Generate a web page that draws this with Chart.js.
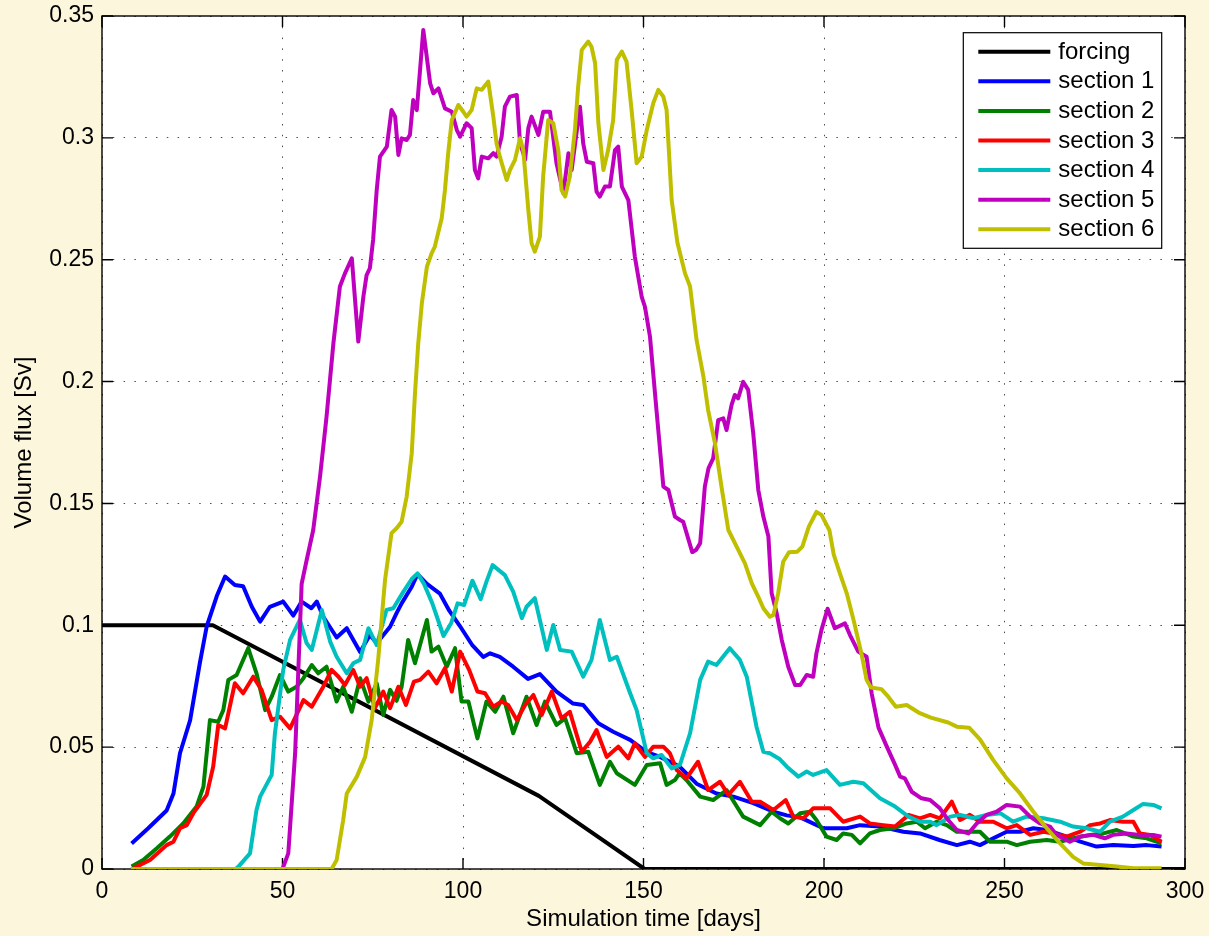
<!DOCTYPE html>
<html>
<head>
<meta charset="utf-8">
<title>Volume flux through sections</title>
<script src="https://cdn.jsdelivr.net/npm/chart.js@4.4.1/dist/chart.umd.min.js"></script>
<style>
  html, body { margin: 0; padding: 0; background: #fcf6dc; }
  #wrap { width: 1209px; height: 936px; position: relative; }
  canvas { display: block; }
</style>
</head>
<body>
<div id="wrap"><canvas id="flux" width="1209" height="936"></canvas></div>
<script>
// ---- axis ticks ----
const xTicks = [0, 50, 100, 150, 200, 250, 300];
const yTicks = [0, 0.05, 0.1, 0.15, 0.2, 0.25, 0.3, 0.35];

// ---- series: [simulation day, volume flux in Sv] ----
const forcing = [[0, 0.1], [30.7, 0.1], [121, 0.03], [150.3, 0], [300, 0]];

const section1 = [
  [8.2, 0.0105], [12.8, 0.0167], [17.9, 0.024], [19.8, 0.031], [21.6, 0.0475], [24.4, 0.061], [27.1, 0.0845], [29.0, 0.0995],
  [31.8, 0.112], [34.1, 0.12], [36.8, 0.1165], [39.1, 0.116], [41.5, 0.1076], [43.8, 0.1015], [46.5, 0.1076], [50.2, 0.1097],
  [53.0, 0.104], [55.3, 0.1097], [58.0, 0.107], [59.5, 0.1097], [61.3, 0.1035], [65.0, 0.095], [67.8, 0.0988], [71.5, 0.089],
  [74.2, 0.096], [76.1, 0.0926], [79.8, 0.0994], [81.6, 0.105], [83.0, 0.109], [85.8, 0.1158], [87.4, 0.121], [90.0, 0.117],
  [93.6, 0.113], [96.2, 0.106], [99.0, 0.1], [102.5, 0.092], [105.6, 0.087], [107.5, 0.0885], [110.2, 0.087], [113.9, 0.083],
  [118.0, 0.078], [121.3, 0.08], [125.9, 0.0728], [130.5, 0.0679], [133.3, 0.0673], [137.5, 0.0598], [141.6, 0.0563], [146.3, 0.053],
  [150.9, 0.048], [154.6, 0.046], [160.0, 0.042], [164.7, 0.035], [170.2, 0.031], [174.9, 0.0297], [180.4, 0.027], [186.0, 0.0235],
  [189.7, 0.022], [193.4, 0.0212], [199.8, 0.0167], [206.3, 0.0167], [210.0, 0.018], [215.5, 0.0174], [222.0, 0.0153], [226.6, 0.0146],
  [232.0, 0.0119], [236.8, 0.0098], [240.4, 0.0112], [243.2, 0.0098], [246.9, 0.0126], [250.6, 0.0153], [254.3, 0.0153], [258.0, 0.0167],
  [261.7, 0.016], [267.2, 0.0133], [271.0, 0.0112], [275.5, 0.0092], [280.1, 0.0098], [285.7, 0.0094], [289.4, 0.0098], [293.5, 0.0092]
];

const section2 = [
  [8.2, 0.001], [11.4, 0.0037], [15.2, 0.0085], [18.8, 0.0133], [22.5, 0.0187], [26.2, 0.0256], [28.1, 0.0338], [29.9, 0.0611],
  [32.2, 0.0604], [33.6, 0.0652], [35.0, 0.0776], [37.3, 0.0796], [40.5, 0.0906], [42.8, 0.0803], [45.2, 0.0652], [47.0, 0.0707],
  [49.3, 0.0796], [51.6, 0.0728], [53.9, 0.0748], [55.8, 0.0783], [58.1, 0.0837], [59.9, 0.0803], [62.2, 0.083], [65.0, 0.0687],
  [66.8, 0.0748], [69.2, 0.0645], [71.5, 0.0783], [73.8, 0.0687], [76.1, 0.0762], [77.9, 0.0632], [79.8, 0.0735], [81.6, 0.069],
  [83.0, 0.0748], [84.8, 0.094], [86.7, 0.0844], [90.0, 0.1022], [91.3, 0.0892], [93.2, 0.0912], [95.5, 0.083], [97.8, 0.0906],
  [99.6, 0.0687], [101.5, 0.0687], [104.0, 0.0536], [106.5, 0.0687], [108.9, 0.0645], [111.2, 0.0707], [113.9, 0.0557], [117.6, 0.0707],
  [120.4, 0.0591], [122.7, 0.0687], [125.9, 0.0591], [128.3, 0.0618], [131.5, 0.0475], [134.7, 0.0481], [137.9, 0.0345], [140.7, 0.044],
  [142.6, 0.0393], [147.6, 0.0345], [150.9, 0.0427], [154.6, 0.0434], [156.4, 0.0345], [158.7, 0.0365], [160.0, 0.0393], [161.9, 0.0365],
  [165.7, 0.0297], [169.3, 0.0283], [173.0, 0.0324], [177.6, 0.0215], [182.3, 0.018], [185.5, 0.0235], [187.8, 0.0208], [190.1, 0.0187],
  [193.4, 0.0229], [196.1, 0.0235], [197.9, 0.0201], [200.7, 0.0133], [203.5, 0.0119], [205.3, 0.0146], [207.7, 0.014], [210.0, 0.0105],
  [212.7, 0.0146], [215.5, 0.016], [219.2, 0.0167], [222.9, 0.0187], [225.7, 0.0194], [228.0, 0.0167], [231.2, 0.0194], [234.0, 0.018],
  [236.8, 0.0153], [240.4, 0.0153], [243.2, 0.0153], [246.0, 0.0112], [250.6, 0.0112], [253.4, 0.0098], [257.1, 0.0112], [261.7, 0.0119],
  [265.4, 0.0112], [269.0, 0.0126], [273.7, 0.014], [277.4, 0.0146], [281.1, 0.016], [285.7, 0.0133], [289.4, 0.0126], [293.5, 0.0105]
];

const section3 = [
  [8.7, 0.0003], [13.3, 0.0037], [17.9, 0.0098], [19.8, 0.0112], [21.6, 0.0167], [23.5, 0.018], [25.3, 0.0229], [29.0, 0.0304],
  [30.8, 0.042], [32.2, 0.0591], [34.1, 0.0577], [36.8, 0.0762], [39.1, 0.0721], [41.9, 0.0789], [44.2, 0.0735], [47.0, 0.0611],
  [49.3, 0.0625], [52.1, 0.0577], [55.8, 0.0693], [58.1, 0.0666], [61.3, 0.0748], [63.6, 0.0817], [65.5, 0.0789], [67.3, 0.0755],
  [69.6, 0.0817], [71.5, 0.0748], [73.3, 0.0783], [75.6, 0.066], [77.9, 0.0728], [79.8, 0.066], [82.1, 0.0748], [84.2, 0.0673],
  [86.4, 0.0769], [88.1, 0.0776], [90.4, 0.081], [92.7, 0.0762], [95.0, 0.0824], [96.9, 0.0728], [99.2, 0.0892], [101.7, 0.0817],
  [104.0, 0.0728], [106.1, 0.0721], [108.4, 0.0666], [110.7, 0.0687], [112.5, 0.0673], [114.9, 0.0611], [117.2, 0.0673], [119.5, 0.0714],
  [121.8, 0.0632], [124.6, 0.0728], [127.3, 0.0618], [129.6, 0.0645], [132.9, 0.0481], [135.2, 0.0522], [137.0, 0.057], [139.8, 0.046],
  [143.0, 0.0502], [145.8, 0.0454], [147.6, 0.0516], [150.4, 0.046], [152.7, 0.0502], [155.5, 0.0502], [157.3, 0.0475], [159.2, 0.0406],
  [161.9, 0.0372], [165.1, 0.044], [167.9, 0.0324], [171.2, 0.0358], [173.5, 0.0304], [176.7, 0.0358], [180.0, 0.0276], [182.3, 0.0276],
  [186.0, 0.0242], [189.4, 0.0283], [191.5, 0.0215], [194.3, 0.0208], [197.0, 0.0249], [201.7, 0.0249], [205.3, 0.0194], [210.0, 0.0215],
  [212.7, 0.0187], [216.4, 0.018], [219.7, 0.0174], [223.4, 0.0222], [226.6, 0.0208], [229.4, 0.0222], [232.1, 0.0208], [235.4, 0.0276],
  [237.7, 0.0201], [240.4, 0.0222], [243.2, 0.0194], [246.9, 0.0194], [250.6, 0.0167], [253.4, 0.018], [257.1, 0.014], [260.8, 0.0153],
  [263.6, 0.0146], [267.2, 0.0133], [271.0, 0.0153], [273.7, 0.018], [276.5, 0.0187], [279.2, 0.0201], [282.8, 0.0194], [285.7, 0.0194],
  [287.5, 0.0146], [290.3, 0.014], [293.5, 0.0112]
];

const section4 = [
  [8.0, 0], [37.0, 0], [37.8, 0.001], [41.0, 0.0064], [42.8, 0.0242], [43.8, 0.0297], [47.0, 0.0386], [47.9, 0.0557],
  [50.2, 0.0817], [52.1, 0.094], [54.8, 0.1022], [56.7, 0.0926], [58.1, 0.0899], [60.9, 0.1063], [63.2, 0.0933], [65.0, 0.0871],
  [67.8, 0.0803], [69.6, 0.0844], [71.5, 0.0858], [73.8, 0.0988], [76.1, 0.0919], [78.8, 0.1063], [80.7, 0.107], [83.5, 0.1138],
  [85.8, 0.119], [87.4, 0.1213], [89.2, 0.117], [91.5, 0.109], [94.6, 0.0956], [96.7, 0.1008], [98.5, 0.109], [100.3, 0.1083],
  [102.6, 0.1183], [104.9, 0.1107], [106.5, 0.1179], [108.2, 0.1247], [111.6, 0.1206], [113.9, 0.1138], [116.3, 0.1029], [117.6, 0.1076],
  [119.9, 0.1111], [121.3, 0.1022], [123.2, 0.0899], [125.0, 0.1001], [126.9, 0.0899], [130.1, 0.0892], [133.3, 0.0789], [135.6, 0.0858],
  [137.9, 0.1022], [140.7, 0.0858], [142.6, 0.0871], [146.3, 0.0721], [148.1, 0.0652], [150.9, 0.0475], [152.7, 0.0454], [155.0, 0.0468],
  [157.8, 0.0413], [160.1, 0.0427], [162.9, 0.0557], [165.7, 0.0776], [167.9, 0.0851], [170.2, 0.0837], [173.9, 0.0906], [176.7, 0.0858],
  [178.6, 0.0789], [181.3, 0.0584], [183.2, 0.0481], [185.0, 0.0475], [187.8, 0.045], [189.7, 0.042], [192.9, 0.0379], [195.2, 0.04],
  [197.0, 0.0386], [200.7, 0.0406], [204.4, 0.0345], [208.1, 0.0358], [210.9, 0.0352], [215.5, 0.029], [219.7, 0.0256], [223.4, 0.0215],
  [226.6, 0.0194], [229.4, 0.0194], [231.2, 0.018], [235.0, 0.0215], [237.7, 0.0222], [241.4, 0.0208], [245.0, 0.0222], [248.8, 0.0229],
  [252.4, 0.0194], [256.1, 0.0215], [260.8, 0.0208], [265.4, 0.0194], [269.0, 0.0174], [272.8, 0.0167], [276.5, 0.0153], [279.2, 0.0194],
  [282.8, 0.0215], [285.7, 0.0242], [288.4, 0.0267], [291.2, 0.0263], [293.5, 0.0249]
];

const section5 = [
  [8.0, 0], [50.0, 0], [51.6, 0.0064], [53.5, 0.0475], [55.3, 0.117], [56.7, 0.1268], [58.5, 0.139], [60.4, 0.161],
  [62.2, 0.1856], [64.1, 0.2157], [65.9, 0.239], [67.3, 0.2444], [69.2, 0.2506], [71.0, 0.2164], [72.4, 0.2348], [73.3, 0.2437],
  [74.2, 0.2465], [75.1, 0.2581], [76.1, 0.2786], [77.0, 0.2923], [78.9, 0.2964], [80.2, 0.3114], [81.2, 0.3087], [82.1, 0.293],
  [83.0, 0.2998], [84.4, 0.2991], [85.3, 0.3012], [86.2, 0.3155], [87.2, 0.3114], [89.0, 0.3443], [90.9, 0.3224], [91.8, 0.3183],
  [93.2, 0.3203], [95.0, 0.3121], [96.9, 0.3107], [98.3, 0.3032], [99.2, 0.3005], [101.0, 0.306], [102.4, 0.304], [103.3, 0.2868],
  [104.2, 0.2834], [105.2, 0.2923], [107.0, 0.2916], [108.4, 0.2937], [109.3, 0.2923], [110.7, 0.3005], [111.6, 0.3128], [113.0, 0.3169],
  [114.9, 0.3176], [115.8, 0.2977], [116.7, 0.2937], [117.2, 0.291], [118.1, 0.304], [119.0, 0.3087], [120.9, 0.3012], [122.2, 0.3107],
  [124.1, 0.3107], [125.9, 0.2896], [127.8, 0.2773], [129.2, 0.2937], [130.1, 0.2868], [132.4, 0.3128], [133.3, 0.2977], [134.3, 0.2902],
  [136.1, 0.2896], [137.0, 0.2779], [137.9, 0.2759], [139.3, 0.28], [140.7, 0.28], [142.1, 0.295], [143.0, 0.2964], [144.0, 0.28],
  [145.8, 0.2745], [147.6, 0.2513], [149.5, 0.2348], [150.4, 0.2307], [151.8, 0.2184], [153.6, 0.1883], [155.5, 0.1569], [156.9, 0.1555],
  [158.7, 0.1446], [160.1, 0.1432], [161.0, 0.1425], [163.5, 0.130], [164.6, 0.131], [165.7, 0.1337], [167.0, 0.157], [168.0, 0.1644],
  [169.3, 0.1685], [170.7, 0.1842], [172.1, 0.1849], [173.0, 0.1801], [174.4, 0.1904], [175.3, 0.1945], [176.2, 0.1931], [177.6, 0.1999],
  [179.0, 0.1966], [180.4, 0.1788], [181.8, 0.1555], [183.2, 0.1446], [184.6, 0.1364], [185.5, 0.1131], [186.9, 0.1049], [188.3, 0.094],
  [190.1, 0.083], [192.0, 0.0755], [193.4, 0.0755], [195.2, 0.0796], [197.0, 0.0789], [197.9, 0.0885], [199.3, 0.0981], [201.0, 0.1068],
  [203.0, 0.0988], [205.8, 0.1008], [207.2, 0.096], [209.5, 0.0892], [211.8, 0.0871], [213.2, 0.0721], [215.1, 0.058], [217.4, 0.0502],
  [219.7, 0.0427], [221.1, 0.0379], [222.4, 0.0372], [224.3, 0.0317], [227.0, 0.029], [229.4, 0.0283], [232.1, 0.0249], [234.4, 0.0201],
  [236.8, 0.016], [240.0, 0.0146], [242.3, 0.0187], [245.0, 0.0222], [247.8, 0.0235], [250.6, 0.0263], [254.3, 0.0256], [257.1, 0.0215],
  [259.8, 0.0187], [262.6, 0.0174], [264.4, 0.014], [268.1, 0.0112], [271.0, 0.0133], [274.6, 0.014], [277.8, 0.0126], [280.1, 0.014],
  [283.8, 0.0146], [287.5, 0.014], [291.2, 0.014], [293.5, 0.0133]
];

const section6 = [
  [8.0, 0], [63.6, 0], [65.0, 0.0037], [66.8, 0.02], [67.8, 0.031], [70.6, 0.0379], [72.9, 0.046], [74.7, 0.0611],
  [76.5, 0.0858], [78.4, 0.1186], [80.2, 0.1378], [81.6, 0.1398], [83.0, 0.1425], [84.4, 0.1528], [85.8, 0.1706], [86.7, 0.1952],
  [87.6, 0.2157], [88.6, 0.2321], [90.0, 0.2471], [91.3, 0.2526], [92.2, 0.2554], [94.1, 0.267], [95.0, 0.2786], [95.9, 0.2937],
  [96.9, 0.3073], [98.7, 0.3135], [100.1, 0.3107], [101.0, 0.3087], [102.4, 0.3114], [103.8, 0.3203], [105.2, 0.3197], [107.0, 0.3231],
  [108.4, 0.3087], [109.3, 0.2977], [110.2, 0.2923], [112.1, 0.2827], [113.0, 0.2868], [114.4, 0.291], [115.8, 0.2998], [116.7, 0.295],
  [118.1, 0.2704], [119.0, 0.2567], [119.9, 0.2533], [121.3, 0.2595], [122.2, 0.2841], [123.6, 0.3073], [125.0, 0.306], [126.4, 0.295],
  [127.3, 0.2786], [128.3, 0.2759], [129.6, 0.2841], [131.0, 0.3032], [131.9, 0.321], [132.9, 0.3361], [134.7, 0.3395], [135.6, 0.3374],
  [136.6, 0.3306], [137.5, 0.306], [138.9, 0.2868], [140.2, 0.295], [141.6, 0.3073], [142.6, 0.332], [144.0, 0.3354], [145.3, 0.3313],
  [146.7, 0.3114], [148.1, 0.2896], [149.5, 0.2923], [150.9, 0.3032], [152.7, 0.3142], [154.1, 0.3197], [155.5, 0.3169], [156.4, 0.3114],
  [157.8, 0.2745], [159.4, 0.257], [161.5, 0.2444], [162.9, 0.239], [164.7, 0.2171], [166.6, 0.202], [167.9, 0.1883], [169.8, 0.1747],
  [171.6, 0.1569], [173.5, 0.1391], [175.8, 0.1323], [178.1, 0.1254], [180.0, 0.1172], [181.8, 0.1117], [183.2, 0.107], [185.0, 0.1035],
  [186.0, 0.1042], [187.3, 0.1131], [188.7, 0.1261], [190.3, 0.13], [192.6, 0.1302], [194.0, 0.1323], [195.8, 0.1405], [197.9, 0.1465],
  [199.3, 0.1453], [201.5, 0.139], [202.7, 0.129], [204.4, 0.1213], [206.3, 0.1131], [208.3, 0.1015], [210.5, 0.0875], [211.8, 0.0776],
  [213.0, 0.0745], [215.9, 0.0738], [217.8, 0.0707], [219.9, 0.0666], [222.9, 0.0673], [226.2, 0.0642], [229.6, 0.0621], [234.4, 0.0601],
  [236.8, 0.0584], [240.2, 0.058], [243.2, 0.0532], [246.9, 0.0447], [250.6, 0.0372], [254.3, 0.031], [258.0, 0.0235], [261.7, 0.0167],
  [265.4, 0.0105], [269.0, 0.005], [271.8, 0.0023], [276.5, 0.0016], [281.1, 0.001], [285.7, 0.0003], [293.5, 0.0003]
];

const seriesNames = ['forcing', 'section 1', 'section 2', 'section 3', 'section 4', 'section 5', 'section 6'];
const seriesColors = ['#000000', '#0000ff', '#008000', '#ff0000', '#00bfbf', '#bf00bf', '#bfbf00'];
const seriesData = [forcing, section1, section2, section3, section4, section5, section6];

const FONT_FAMILY = "'Liberation Sans', Arial, Helvetica, sans-serif";
const TICK_LEN = 11;

// plot face, boxed frame with inward ticks, and a boxed legend in the upper right
const framePlugin = {
  id: 'frame',
  beforeDraw(chart) {
    const { ctx, chartArea: a } = chart;
    ctx.save();
    ctx.fillStyle = '#ffffff';
    ctx.fillRect(a.left, a.top, a.right - a.left, a.bottom - a.top);
    ctx.restore();
  },
  beforeDatasetsDraw(chart) {
    const { ctx, chartArea: a, scales } = chart;
    ctx.save();
    ctx.strokeStyle = '#000000';
    ctx.lineWidth = 1.4;
    ctx.strokeRect(a.left, a.top, a.right - a.left, a.bottom - a.top);
    ctx.beginPath();
    scales.x.ticks.forEach(t => {
      const px = scales.x.getPixelForValue(t.value);
      ctx.moveTo(px, a.bottom); ctx.lineTo(px, a.bottom - TICK_LEN);
      ctx.moveTo(px, a.top); ctx.lineTo(px, a.top + TICK_LEN);
    });
    scales.y.ticks.forEach(t => {
      const py = scales.y.getPixelForValue(t.value);
      ctx.moveTo(a.left, py); ctx.lineTo(a.left + TICK_LEN, py);
      ctx.moveTo(a.right, py); ctx.lineTo(a.right - TICK_LEN, py);
    });
    ctx.stroke();
    ctx.restore();
  },
  afterDraw(chart) {
    const { ctx, chartArea: a } = chart;
    const sets = chart.data.datasets;
    const boxRight = a.right - 23.3;
    const boxLeft = boxRight - 198.4;
    const boxTop = a.top + 16.7;
    const rowGap = 29.6;
    const firstRow = boxTop + 19;
    const boxBottom = firstRow + rowGap * (sets.length - 1) + 19;
    ctx.save();
    ctx.fillStyle = '#ffffff';
    ctx.fillRect(boxLeft, boxTop, boxRight - boxLeft, boxBottom - boxTop);
    ctx.strokeStyle = '#000000';
    ctx.lineWidth = 1.2;
    ctx.strokeRect(boxLeft, boxTop, boxRight - boxLeft, boxBottom - boxTop);
    ctx.font = '24px ' + FONT_FAMILY;
    ctx.textBaseline = 'middle';
    ctx.textAlign = 'left';
    sets.forEach((ds, i) => {
      const y = firstRow + rowGap * i;
      ctx.strokeStyle = ds.borderColor;
      ctx.lineWidth = 4;
      ctx.beginPath();
      ctx.moveTo(boxLeft + 15, y);
      ctx.lineTo(boxLeft + 87, y);
      ctx.stroke();
      ctx.fillStyle = '#000000';
      ctx.fillText(ds.label, boxLeft + 95, y + 0.5);
    });
    ctx.restore();
  }
};

const datasets = seriesData.map((pts, i) => ({
  label: seriesNames[i],
  data: pts.map(p => ({ x: p[0], y: p[1] })),
  borderColor: seriesColors[i],
  backgroundColor: seriesColors[i],
  borderWidth: 4,
  pointRadius: 0,
  tension: 0,
  fill: false,
  borderJoinStyle: 'round',
  borderCapStyle: 'butt',
  order: seriesData.length - i
}));

const gridDots = [1.5, 9.3];

// keep the plot frame where the layout padding puts it (labels may overhang)
const clearOverhang = s => {
  s.paddingLeft = 0; s.paddingRight = 0; s.paddingTop = 0; s.paddingBottom = 0;
};

new Chart(document.getElementById('flux'), {
  type: 'line',
  data: { datasets },
  options: {
    responsive: false,
    animation: false,
    devicePixelRatio: 1,
    layout: { padding: { left: 0, top: 16, right: 24, bottom: 0 } },
    plugins: { legend: { display: false }, tooltip: { enabled: false } },
    scales: {
      x: {
        type: 'linear',
        min: xTicks[0],
        max: xTicks[xTicks.length - 1],
        afterBuildTicks: s => { s.ticks = xTicks.map(v => ({ value: v })); },
        afterFit: s => { s.height = 67; clearOverhang(s); },
        ticks: {
          padding: 9,
          color: '#000000',
          font: { family: FONT_FAMILY, size: 23 },
          maxRotation: 0,
          callback: v => String(v)
        },
        grid: { color: 'rgba(0,0,0,0.7)', lineWidth: 1, drawTicks: false, borderDash: gridDots },
        border: { display: false, dash: gridDots },
        title: {
          display: true,
          text: 'Simulation time [days]',
          color: '#000000',
          font: { family: FONT_FAMILY, size: 24 },
          padding: { top: 0, bottom: 2 }
        }
      },
      y: {
        type: 'linear',
        min: yTicks[0],
        max: yTicks[yTicks.length - 1],
        afterBuildTicks: s => { s.ticks = yTicks.map(v => ({ value: v })); },
        afterFit: s => { s.width = 102; clearOverhang(s); },
        ticks: {
          padding: 8,
          color: '#000000',
          font: { family: FONT_FAMILY, size: 23 },
          callback: v => String(Math.round(v * 100) / 100)
        },
        grid: { color: 'rgba(0,0,0,0.7)', lineWidth: 1, drawTicks: false, borderDash: gridDots },
        border: { display: false, dash: gridDots },
        title: {
          display: true,
          text: 'Volume flux [Sv]',
          color: '#000000',
          font: { family: FONT_FAMILY, size: 24 },
          padding: { top: 10, bottom: 0 }
        }
      }
    }
  },
  plugins: [framePlugin]
});
</script>
</body>
</html>
